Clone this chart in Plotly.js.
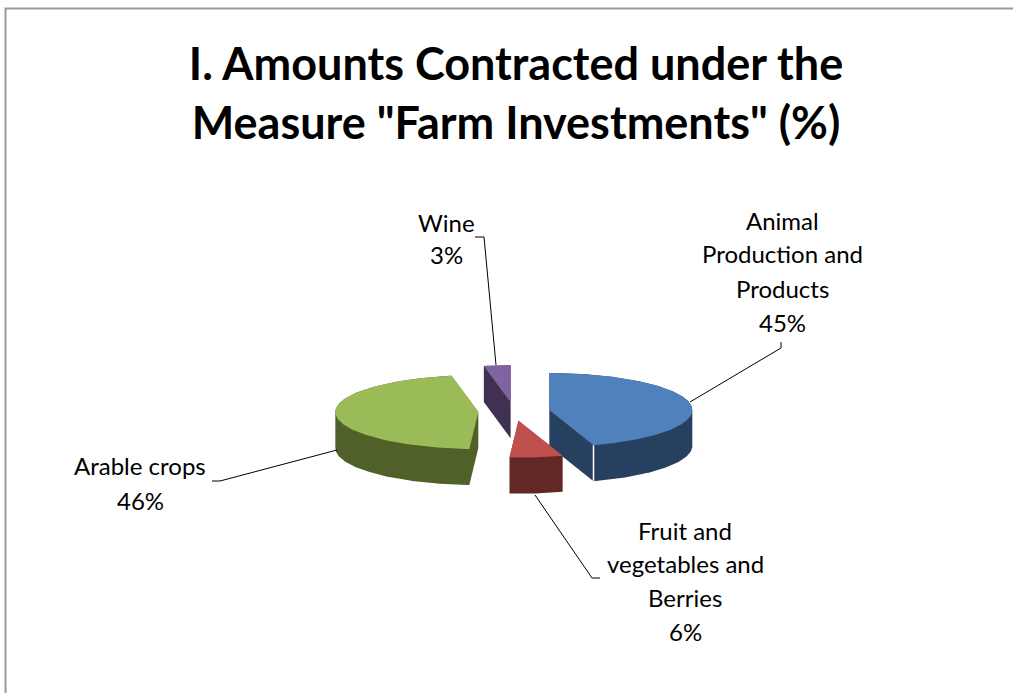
<!DOCTYPE html>
<html>
<head>
<meta charset="utf-8">
<script src="https://cdn.plot.ly/plotly-3.0.1.min.js"></script>
<style>html,body{margin:0;padding:0;background:#fff;}#chart{width:1013px;height:693px;}</style>
</head>
<body>
<div id="chart"></div>
<script>
// ---- data ----
const categories = ["Animal Production and Products", "Fruit and vegetables and Berries", "Arable crops", "Wine"];
const values = [45, 6, 46, 3];
const labelTexts = ["Animal<br>Production and<br>Products", "Fruit and<br>vegetables and<br>Berries", "Arable crops", "Wine"];
const topColors = ["#4F81BD", "#C0504D", "#9BBB59", "#8064A2"];
const sideColors = ["#28405F", "#632726", "#4F6128", "#403152"];

// ---- layout constants (pixels) ----
const W = 1013, H = 693;
const CX = 514, CY = 411.5, RX = 143, RY = 37, THICK = 36, EXPLODE = 0.25;
const labelPos = [
  {x: 782, y0: 220, step: 34},
  {x: 685, y0: 530, step: 33.7},
  {x: 140, y0: 466, step: 34},
  {x: 446, y0: 222, step: 33}
];
const leaders = [
  [[781,342],[781,348],[690,402]],
  [[600,578],[592,578],[535,495]],
  [[212,481],[220,481],[337,450]],
  [[475,237],[484,237],[496,365]]
];

const px = (x) => x / W;
const py = (y) => 1 - y / H;

const total = values.reduce((a, b) => a + b, 0);
const t = THICK / RY;
const rad = d => d * Math.PI / 180;

function hull(pts) {
  const p = pts.slice().sort((a, b) => a[0] - b[0] || a[1] - b[1]);
  const cross = (o, a, b) => (a[0]-o[0])*(b[1]-o[1]) - (a[1]-o[1])*(b[0]-o[0]);
  const lower = [], upper = [];
  for (const q of p) { while (lower.length >= 2 && cross(lower[lower.length-2], lower[lower.length-1], q) <= 0) lower.pop(); lower.push(q); }
  for (let i = p.length - 1; i >= 0; i--) { const q = p[i]; while (upper.length >= 2 && cross(upper[upper.length-2], upper[upper.length-1], q) <= 0) upper.pop(); upper.push(q); }
  upper.pop(); lower.pop();
  return lower.concat(upper);
}

// build slices
let cum = 0;
const slices = values.map((v, i) => {
  const a0 = cum / total * 360;
  cum += v;
  const a1 = cum / total * 360;
  const m = (a0 + a1) / 2;
  const ox = EXPLODE * Math.sin(rad(m)), oy = EXPLODE * Math.cos(rad(m));
  const top = [[ox, oy]];
  const n = Math.max(2, Math.ceil(a1 - a0));
  for (let k = 0; k <= n; k++) {
    const a = a0 + (a1 - a0) * k / n;
    top.push([ox + Math.sin(rad(a)), oy + Math.cos(rad(a))]);
  }
  const all = top.concat(top.map(p => [p[0], p[1] - t]));
  return {i, a0, a1, ox, oy, top, side: hull(all)};
});

const traces = [];
slices.slice().sort((a, b) => b.oy - a.oy).forEach(s => {
  const pct = Math.round(values[s.i] / total * 100) + "%";
  const side = s.side.concat([s.side[0]]);
  traces.push({
    type: "scatter", mode: "lines", fill: "toself",
    x: side.map(p => p[0]), y: side.map(p => p[1]),
    fillcolor: sideColors[s.i], line: {width: 0, color: sideColors[s.i]},
    name: categories[s.i], hoverinfo: "text", text: categories[s.i] + ": " + pct, hoveron: "fills"
  });
  if (s.a1 > 90 && s.a1 < 180) {
    const ex = s.ox + Math.sin(rad(s.a1)), ey = s.oy + Math.cos(rad(s.a1));
    traces.push({
      type: "scatter", mode: "lines", x: [ex, ex], y: [ey, ey - t],
      line: {color: "#ffffff", width: 1.5}, hoverinfo: "skip"
    });
  }
  const top = s.top.concat([s.top[0]]);
  traces.push({
    type: "scatter", mode: "lines", fill: "toself",
    x: top.map(p => p[0]), y: top.map(p => p[1]),
    fillcolor: topColors[s.i], line: {width: 0, color: topColors[s.i]},
    name: categories[s.i], hoverinfo: "text", text: categories[s.i] + ": " + pct, hoveron: "fills"
  });
});

const annotations = [];
values.forEach((v, i) => {
  const lines = labelTexts[i].split("<br>").concat([Math.round(v / total * 100) + "%"]);
  const lp = labelPos[i];
  lines.forEach((ln, k) => {
    annotations.push({
      xref: "paper", yref: "paper", x: px(lp.x), y: py(lp.y0 + k * lp.step),
      xanchor: "center", yanchor: "middle", showarrow: false, text: ln,
      font: {family: "Lato, 'Open Sans', sans-serif", size: 24, color: "#000"}
    });
  });
});

const shapes = leaders.map(pts => ({
  type: "path", xref: "paper", yref: "paper",
  path: "M " + pts.map(p => px(p[0]) + "," + py(p[1])).join(" L "),
  line: {color: "#000", width: 1}
}));
shapes.push({
  type: "path", xref: "paper", yref: "paper",
  path: "M " + px(5.5) + "," + py(700) + " L " + px(5.5) + "," + py(8.5) + " L " + px(1020) + "," + py(8.5),
  line: {color: "#9a9a9a", width: 2}
});

const layout = {
  width: W, height: H,
  margin: {l: 0, r: 0, t: 0, b: 0},
  paper_bgcolor: "#fff", plot_bgcolor: "#fff",
  showlegend: false,
  title: {
    text: "I. Amounts Contracted under the<br>Measure \"Farm Investments\" (%)",
    x: 516 / W, xanchor: "center", xref: "paper",
    y: 1 - 80 / H, yanchor: "middle", yref: "paper",
    font: {family: "Lato, 'Open Sans', sans-serif", size: 45, color: "#000", weight: "bold"}
  },
  xaxis: {range: [(0 - CX) / RX, (W - CX) / RX], visible: false, fixedrange: true},
  yaxis: {range: [-(H - CY) / RY, CY / RY], visible: false, fixedrange: true},
  annotations: annotations,
  shapes: shapes
};

Plotly.newPlot("chart", traces, layout, {displayModeBar: false, staticPlot: false});
</script>
</body>
</html>
